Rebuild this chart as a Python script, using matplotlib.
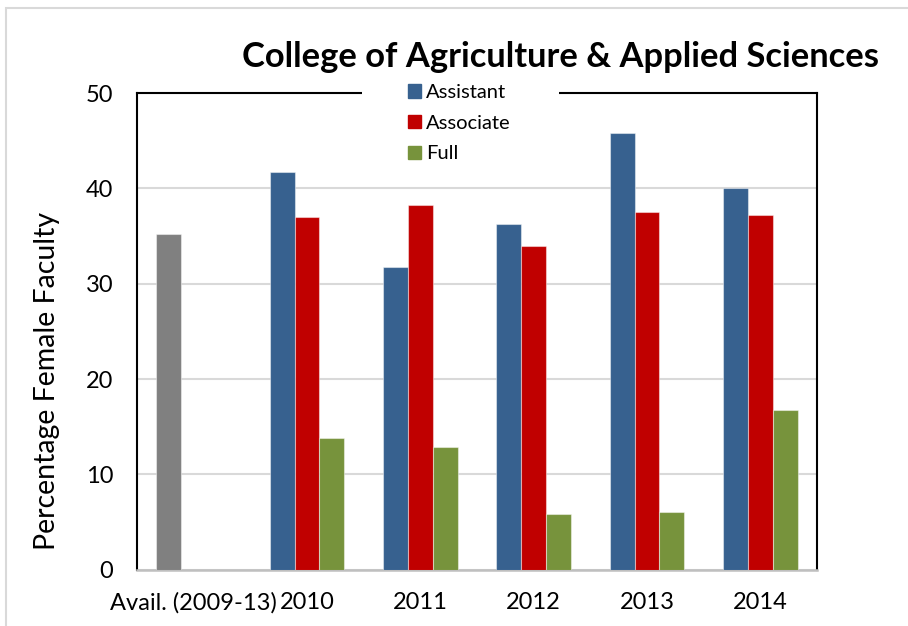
import numpy as np
import matplotlib
matplotlib.use("Agg")
from matplotlib import pyplot as plt
from matplotlib.patches import Patch, Rectangle

plt.rcParams['font.family'] = ['Lato', 'DejaVu Sans']

# data
categories = ["Avail. (2009-13)", "2010", "2011", "2012", "2013", "2014"]
avail_value = 35.2
years = ["2010", "2011", "2012", "2013", "2014"]
assistant = [41.7, 31.8, 36.3, 45.8, 40.0]
associate = [37.0, 38.3, 34.0, 37.5, 37.2]
full = [13.8, 12.9, 5.8, 6.0, 16.7]

c_blue = "#37618f"
c_red = "#c00000"
c_green = "#77933c"
c_gray = "#808080"

W, H = 908, 626
fig = plt.figure(figsize=(W / 100, H / 100), dpi=100)
ax = fig.add_axes([137 / W, 1 - 569.6 / H, (817 - 137) / W, (569.6 - 93.2) / H])

w = 0.2205
x = np.arange(1, len(years) + 1)
edge = dict(edgecolor=(1, 1, 1, 0.45), linewidth=0.8, zorder=3)
ax.bar(0 - w, avail_value, w, color=c_gray, **edge)
ax.bar(x - w, assistant, w, color=c_blue, **edge)
ax.bar(x, associate, w, color=c_red, **edge)
ax.bar(x + w, full, w, color=c_green, **edge)

ax.set_xlim(-0.5, 5.5)
ax.set_ylim(0, 50)
ax.set_yticks(range(0, 51, 10))
ax.set_xticks(range(len(categories)))
ax.set_xticklabels(categories)
ax.tick_params(axis='both', length=0, labelsize=17)
ax.tick_params(axis='y', pad=17)
ax.tick_params(axis='x', pad=16)
ax.yaxis.grid(True, color="#d9d9d9", linewidth=1.5)
ax.set_axisbelow(True)
for s in ["left", "right", "top"]:
    ax.spines[s].set_color("black")
    ax.spines[s].set_linewidth(1.5)
ax.spines["bottom"].set_color("#bfbfbf")
ax.spines["bottom"].set_linewidth(1.8)

# white block breaking the top spine behind the legend
ax.add_patch(Rectangle((362 / W, 1 - 100 / H), (559 - 362) / W, 14 / H,
                       transform=fig.transFigure, facecolor="white",
                       edgecolor="none", zorder=4, clip_on=False))

handles = [Patch(color=c_blue, label="Assistant"),
           Patch(color=c_red, label="Associate"),
           Patch(color=c_green, label="Full")]
leg = ax.legend(handles=handles, loc="upper left",
                bbox_to_anchor=(408 / W, 1 - 84 / H), bbox_transform=fig.transFigure,
                frameon=False, fontsize=14.5, handlelength=0.63, handleheight=0.63,
                handletextpad=0.25, labelspacing=0.68, borderpad=0, borderaxespad=0)
leg.set_zorder(5)

fig.text(560 / W, 1 - 57 / H, "College of Agriculture & Applied Sciences",
         ha="center", va="center", fontsize=24.8, fontweight="bold")
fig.text(47 / W, 1 - 381 / H, "Percentage Female Faculty", rotation=90,
         ha="center", va="center", fontsize=20.5)

# light outer border of the chart area
fig.patches.append(Rectangle((6 / W, -0.1), 1.2, 1.1 - 8 / H, transform=fig.transFigure,
                             facecolor="none", edgecolor="#d9d9d9", linewidth=1.5))

fig.savefig("out.png", dpi=100)
